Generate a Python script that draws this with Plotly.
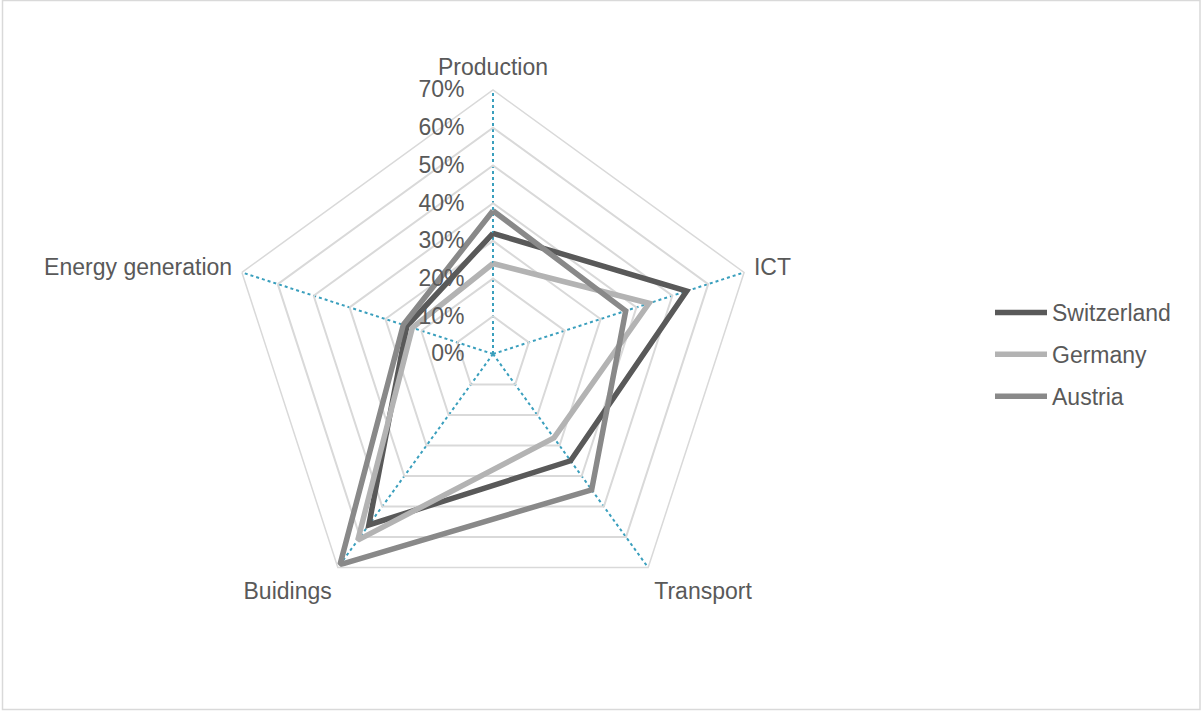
import plotly.graph_objects as go

categories = ["Production", "ICT", "Transport", "Buidings", "Energy generation"]
switzerland = [0.32, 0.54, 0.35, 0.56, 0.24]
germany = [0.24, 0.435, 0.275, 0.61, 0.225]
austria = [0.38, 0.37, 0.445, 0.69, 0.25]
radial_ticks = [0, 0.1, 0.2, 0.3, 0.4, 0.5, 0.6, 0.7]
radial_labels = ["0%", "10%", "20%", "30%", "40%", "50%", "60%", "70%"]

series = [
    ("Switzerland", switzerland, "#595959"),
    ("Germany", germany, "#b3b3b3"),
    ("Austria", austria, "#898989"),
]

W, H = 1201, 711
cx, cy, R = 493, 354, 264
font = "Liberation Sans, Arial, sans-serif"
txt = "#595959"
fs = 23

fig = go.Figure()
for i, (name, vals, col) in enumerate(series):
    fig.add_trace(go.Scatterpolar(
        r=vals + vals[:1],
        theta=categories + categories[:1],
        mode="lines",
        name=name,
        legendgroup=name,
        line=dict(color=col, width=5.5),
    ))

fig.update_layout(
    width=W, height=H,
    margin=dict(l=0, r=0, t=0, b=0),
    paper_bgcolor="white",
    plot_bgcolor="white",
    font=dict(family=font, size=fs, color=txt),
    polar=dict(
        domain=dict(x=[(cx - R) / W, (cx + R) / W], y=[(H - cy - R) / H, (H - cy + R) / H]),
        bgcolor="white",
        gridshape="linear",
        radialaxis=dict(
            range=[0, 0.7],
            tickvals=radial_ticks,
            ticktext=radial_labels,
            angle=90,
            tickangle=90,
            side="counterclockwise",
            showline=False,
            gridcolor="#d9d9d9",
            gridwidth=1.5,
            ticks="outside",
            ticklen=20,
            tickcolor="rgba(0,0,0,0)",
            tickfont=dict(size=fs, color=txt),
        ),
        angularaxis=dict(
            direction="clockwise",
            rotation=90,
            showline=True,
            linecolor="#d9d9d9",
            linewidth=1.5,
            gridcolor="#3a9fbd",
            griddash="dot",
            gridwidth=1.5,
            ticks="outside",
            ticklen=5,
            tickcolor="rgba(0,0,0,0)",
            tickfont=dict(size=fs, color=txt),
        ),
    ),
    legend=dict(
        x=990 / W, y=(H - 291) / H, xanchor="left", yanchor="top",
        traceorder="grouped",
        tracegroupgap=9,
        itemwidth=52,
        font=dict(size=fs, color=txt),
        bgcolor="rgba(0,0,0,0)",
    ),
    shapes=[dict(
        type="rect", xref="paper", yref="paper",
        x0=2.5 / W, x1=1200 / W, y0=1.5 / H, y1=(H - 0.5) / H,
        line=dict(color="#d9d9d9", width=1.5),
    )],
)

fig.write_html("out.html", config={"displayModeBar": False},
               post_script="document.body.style.margin='0';")
